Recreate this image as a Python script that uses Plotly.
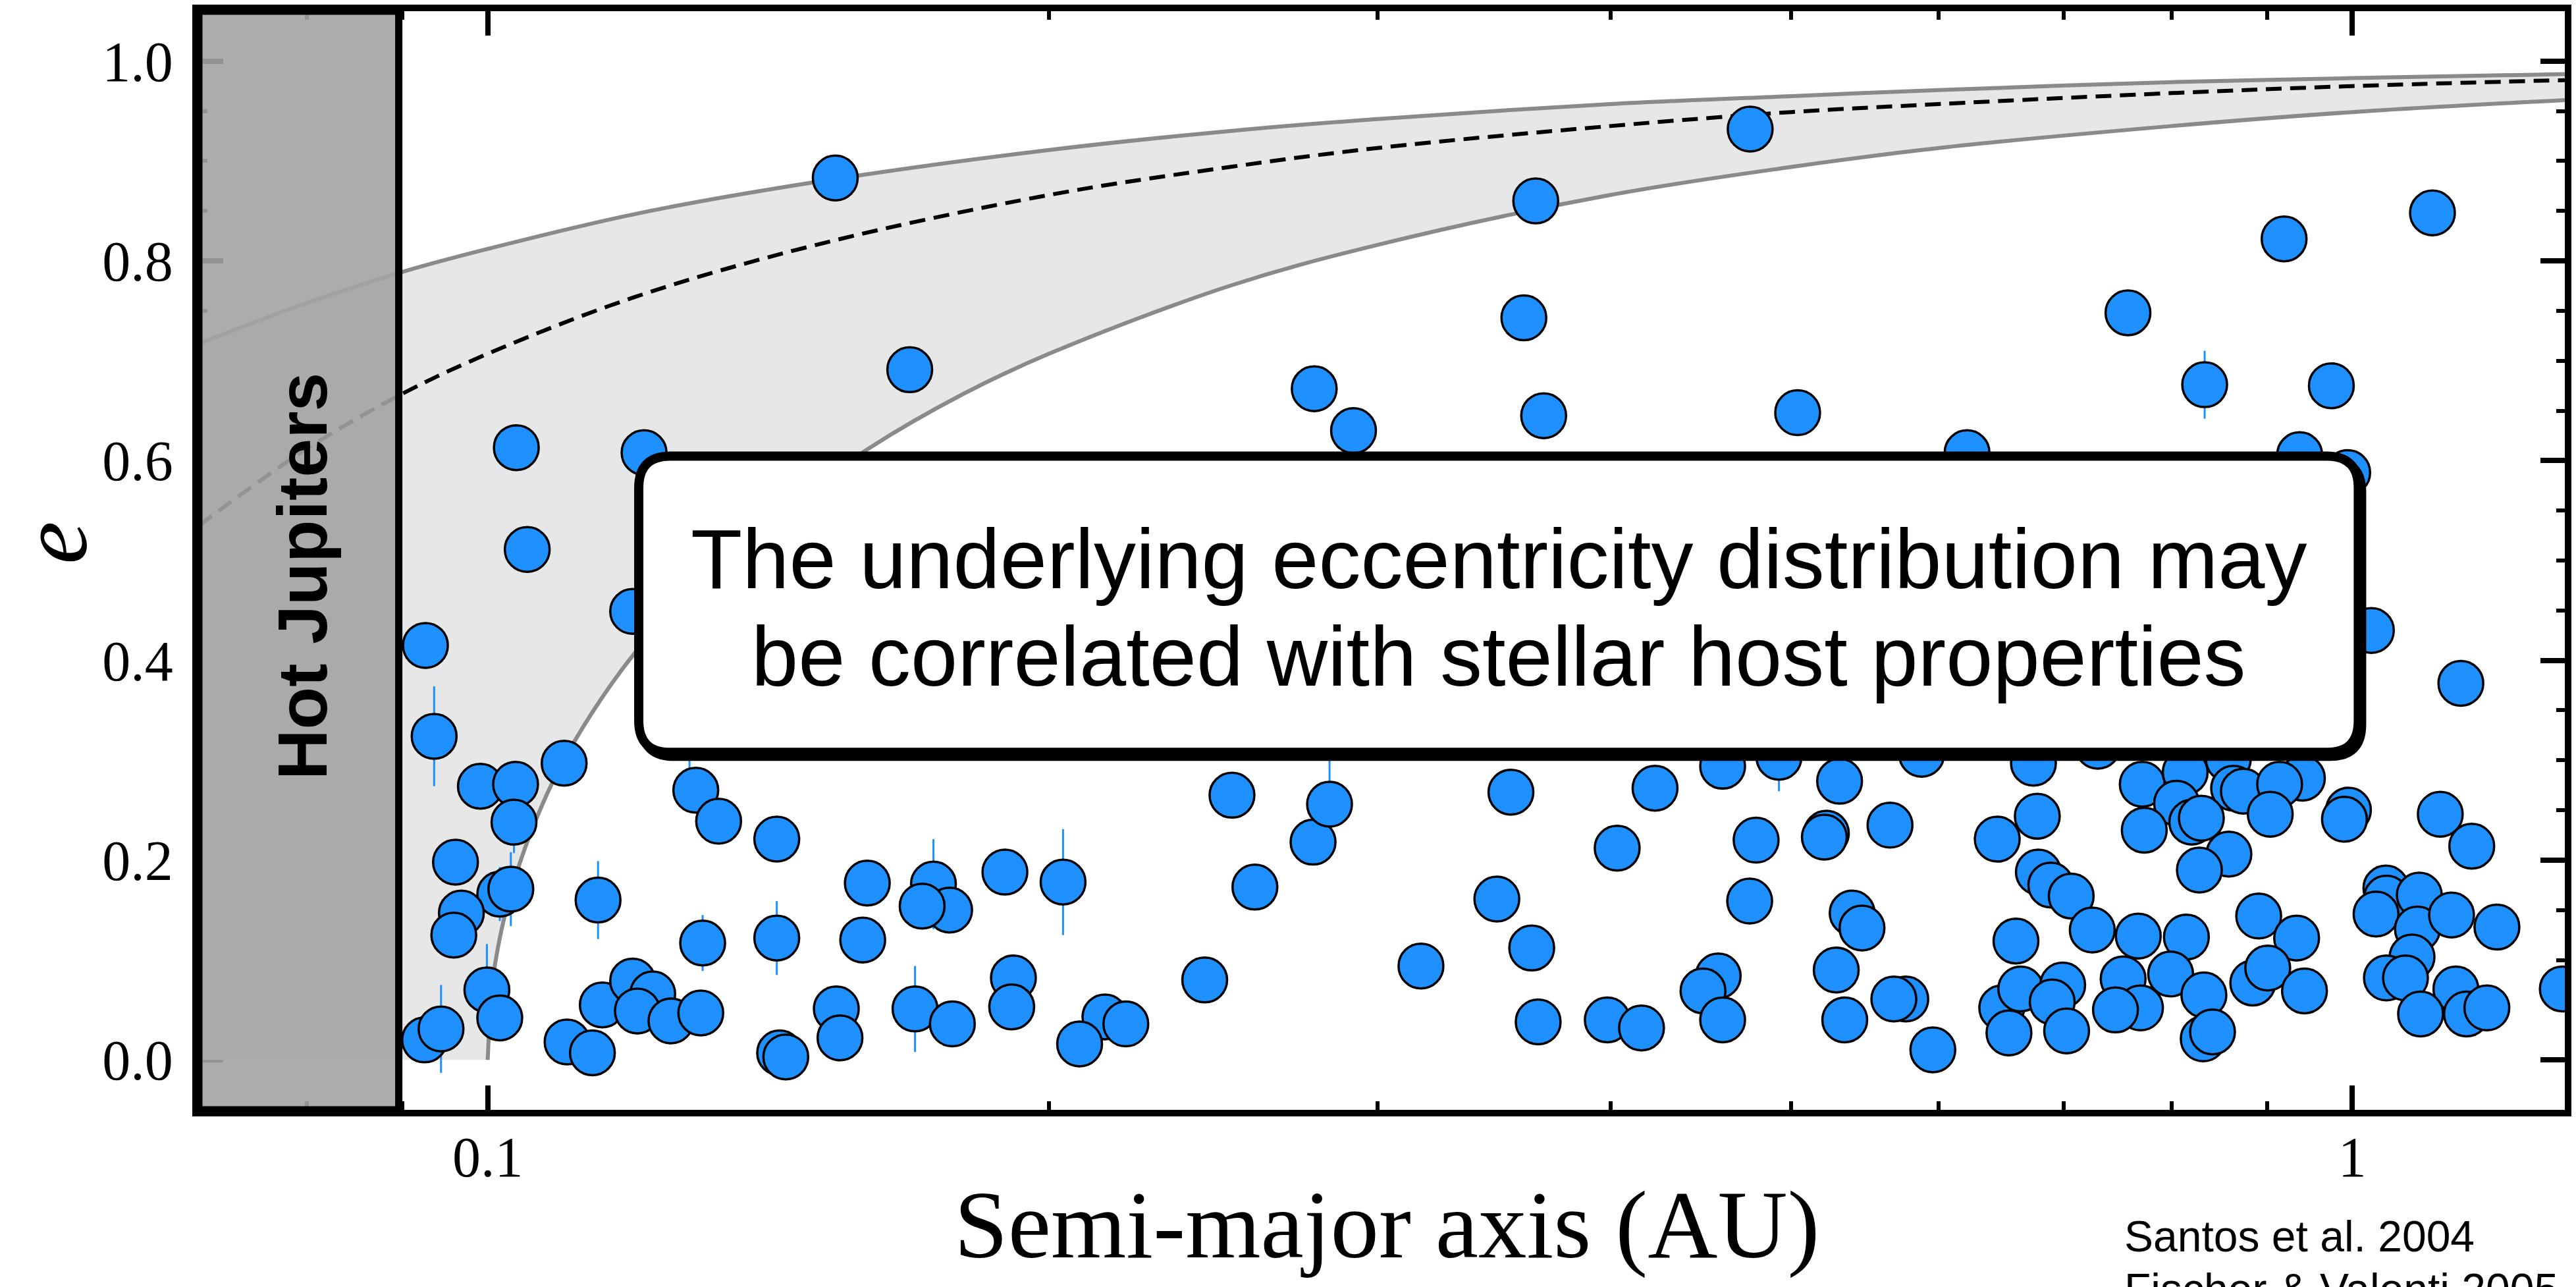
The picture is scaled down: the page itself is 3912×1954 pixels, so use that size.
import plotly.graph_objects as go

# ---------------------------------------------------------------- data
semi_major_au = [
    0.0926, 0.0936, 0.0991, 0.1035, 0.1033, 0.1099, 0.0961, 0.1015, 0.1029, 0.0968,
    0.0959, 0.1146, 0.0999, 0.1015, 0.0925, 0.0944, 0.1103, 0.1138, 0.1152, 0.1196,
    0.1226, 0.1203, 0.1254, 0.1301, 0.1304, 0.1429, 0.1429, 0.1293, 0.1330, 0.1283,
    0.1196, 0.1598, 0.1589, 0.1538, 0.1545, 0.1434, 0.1445, 0.1695,
    0.1734, 0.1769, 0.1710, 0.1894, 0.2035, 0.1775, 0.1914, 0.1910, 0.2143, 0.2077,
    0.2199, 0.2424, 0.2507, 0.2579, 0.2771, 0.2828, 0.3166,
    0.3538, 0.4227, 0.4034, 0.4595, 0.4926, 0.5309, 0.5875, 0.4789, 0.5223, 0.5210,
    0.5650, 0.3477, 0.3630, 0.4751, 0.5392, 0.5458, 0.5287, 0.5761, 0.5677, 0.5343,
    0.5957, 0.4570, 0.4485, 0.4595, 0.3659, 0.3985, 0.4157,
    1.0238, 1.1434, 0.6745, 0.7303, 0.6777, 0.6450, 0.7715, 0.8135, 0.8580, 0.8636,
    0.8741, 0.8049, 0.9402, 0.9141, 0.9036, 0.9952, 0.9903, 0.7734, 0.8201, 0.8299,
    0.8586, 0.8279, 1.1147, 1.1589, 0.6786, 0.6891, 0.7067, 0.7253, 0.7677, 0.8147,
    0.6601, 0.8908, 0.9335, 1.0423, 1.0430, 1.0297, 1.0862, 1.0837, 1.1303, 1.1955,
    1.0765, 1.0430, 1.0678, 1.1364, 1.0879, 1.1514, 1.1807, 1.2960, 0.7535, 0.7990,
    0.7698, 0.7464, 0.8325, 0.8318, 0.8414, 0.8843, 0.9008, 0.9426, 0.6486, 0.6640,
    0.6993, 0.6903, 0.6544, 0.7027,
    0.9192, 1.1040, 0.7580, 0.8333, 0.9744, 0.6214, 0.9370, 0.9943,
    0.1536, 0.1684, 0.1036, 0.1050, 0.1213, 0.2775, 0.2913, 0.4754, 0.3648, 0.3595,
    0.3684, 0.5041,
]
eccentricity = [
    0.415, 0.324, 0.274, 0.276, 0.238, 0.297, 0.198, 0.166, 0.171, 0.147,
    0.125, 0.160, 0.070, 0.042, 0.020, 0.031, 0.018, 0.007, 0.055, 0.079,
    0.066, 0.049, 0.039, 0.047, 0.117, 0.122, 0.221, 0.270, 0.239, 0.326,
    0.449, 0.177, 0.120, 0.051, 0.022, 0.007, 0.003, 0.051,
    0.176, 0.150, 0.154, 0.188, 0.178, 0.036, 0.082, 0.053, 0.043, 0.016,
    0.036, 0.080, 0.265, 0.173, 0.218, 0.256, 0.094,
    0.268, 0.272, 0.212, 0.294, 0.303, 0.279, 0.306, 0.220, 0.227, 0.223,
    0.235, 0.161, 0.112, 0.159, 0.147, 0.132, 0.090, 0.061, 0.061, 0.040,
    0.010, 0.084, 0.069, 0.040, 0.038, 0.040, 0.032,
    0.430, 0.377, 0.297, 0.314, 0.244, 0.221, 0.276, 0.288, 0.301, 0.272,
    0.269, 0.257, 0.282, 0.276, 0.246, 0.250, 0.241, 0.230, 0.238, 0.242,
    0.206, 0.190, 0.246, 0.214, 0.188, 0.175, 0.164, 0.130, 0.124, 0.123,
    0.119, 0.144, 0.122, 0.172, 0.162, 0.146, 0.165, 0.131, 0.145, 0.133,
    0.103, 0.082, 0.082, 0.071, 0.046, 0.046, 0.052, 0.071, 0.081, 0.086,
    0.052, 0.050, 0.065, 0.021, 0.028, 0.077, 0.092, 0.069, 0.052, 0.071,
    0.075, 0.058, 0.027, 0.029,
    0.822, 0.848, 0.748, 0.676, 0.675, 0.608, 0.606, 0.588,
    0.883, 0.691, 0.613, 0.511, 0.608, 0.672, 0.630, 0.932, 0.860, 0.743,
    0.645, 0.648,
]
# 1-sigma uncertainties on e, keyed by planet index (others have none drawn)
err_by_index = {1: 0.050, 4: 0.031, 7: 0.027, 8: 0.037, 11: 0.039, 12: 0.046,
                15: 0.044, 24: 0.028, 25: 0.037, 29: 0.035, 37: 0.043,
                38: 0.045, 42: 0.053, 53: 0.044, 59: 0.034, 149: 0.034}
ecc_err = [err_by_index.get(i, 0.0) for i in range(len(eccentricity))]

# envelope curves
upper_a = [0.07, 0.08, 0.09, 0.10, 0.12, 0.15, 0.20, 0.25, 0.30, 0.40, 0.50, 0.60, 0.80, 1.00, 1.30]
upper_e = [0.717, 0.758, 0.789, 0.812, 0.847, 0.879, 0.911, 0.930, 0.942, 0.957, 0.965, 0.971, 0.979, 0.983, 0.987]
mid_a = [0.07, 0.08, 0.09, 0.10, 0.12, 0.15, 0.20, 0.25, 0.30, 0.40, 0.50, 0.60, 0.80, 1.00, 1.30]
mid_e = [0.535, 0.612, 0.667, 0.707, 0.764, 0.816, 0.866, 0.894, 0.913, 0.935, 0.949, 0.957, 0.968, 0.975, 0.981]
lower_a = [0.100, 0.1005, 0.101, 0.102, 0.104, 0.107, 0.110, 0.115, 0.120, 0.130, 0.140, 0.160,
           0.180, 0.200, 0.250, 0.300, 0.400, 0.500, 0.600, 0.800, 1.000, 1.300]
lower_e = [0.000, 0.071, 0.100, 0.140, 0.196, 0.256, 0.302, 0.361, 0.408, 0.480, 0.535, 0.612,
           0.667, 0.707, 0.775, 0.816, 0.866, 0.894, 0.913, 0.935, 0.949, 0.961]

hot_jupiter_edge = [0.07, 0.0896]
x_range = [0.07, 1.3]
y_range = [-0.05, 1.05]
x_major = [0.1, 1]
x_major_text = ["0.1", "1"]
x_minor = [0.08, 0.09, 0.2, 0.3, 0.4, 0.5, 0.6, 0.7, 0.8, 0.9]
y_major = [0.0, 0.2, 0.4, 0.6, 0.8, 1.0]
y_minor = [0.05, 0.1, 0.15, 0.25, 0.3, 0.35, 0.45, 0.5, 0.55, 0.65, 0.7, 0.75, 0.85, 0.9, 0.95]

# ---------------------------------------------------------------- figure
W, H = 3912, 1954
L, R, T, B = 302, 6.5, 16, 269
PW, PH = W - L - R, H - T - B

def px_x(x):
    return (x - L) / PW

def px_y(y):
    return (H - B - y) / PH

fig = go.Figure()

band_x = upper_a + lower_a[::-1] + [0.07]
band_y = upper_e + lower_e[::-1] + [0.0]
fig.add_trace(go.Scatter(x=band_x, y=band_y, mode="lines", fill="toself",
                         fillcolor="#e7e7e7", line=dict(width=0), hoverinfo="skip"))
fig.add_trace(go.Scatter(x=upper_a, y=upper_e, mode="lines",
                         line=dict(color="#8a8a8a", width=6, shape="spline")))
fig.add_trace(go.Scatter(x=lower_a, y=lower_e, mode="lines",
                         line=dict(color="#8a8a8a", width=6, shape="spline")))
fig.add_trace(go.Scatter(x=mid_a, y=mid_e, mode="lines",
                         line=dict(color="black", width=6, dash="24px,13px", shape="spline")))

# hot-Jupiter zone
x0, x1 = hot_jupiter_edge
fig.add_trace(go.Scatter(x=[x0, x1, x1, x0, x0],
                         y=[y_range[0], y_range[0], y_range[1], y_range[1], y_range[0]],
                         mode="lines", fill="toself", fillcolor="rgba(163,163,163,0.9)",
                         line=dict(color="black", width=11)))

fig.add_trace(go.Scatter(
    x=semi_major_au, y=eccentricity, mode="markers",
    marker=dict(size=68, color="#1e90ff", line=dict(color="black", width=3.5)),
    error_y=dict(type="data", array=ecc_err, visible=True, color="#1e90ff",
                 thickness=3, width=0),
))

# rounded call-out box
bx0, bx1 = px_x(972), px_x(3591)
by1, by0 = px_y(692), px_y(1142)
rx, ry = 48 / PW, 48 / PH

def rounded(x0, y0, x1, y1):
    return (f"M {x0+rx},{y1} L {x1-rx},{y1} Q {x1},{y1} {x1},{y1-ry} "
            f"L {x1},{y0+ry} Q {x1},{y0} {x1-rx},{y0} L {x0+rx},{y0} "
            f"Q {x0},{y0} {x0},{y0+ry} L {x0},{y1-ry} Q {x0},{y1} {x0+rx},{y1} Z")

sdx, sdy = 5 / PW, 6 / PH
fig.add_shape(type="path", xref="paper", yref="paper", layer="above",
              path=rounded(bx0 + sdx, by0 - sdy, bx1 + sdx, by1 - sdy),
              fillcolor="black", line=dict(color="black", width=14))
fig.add_shape(type="path", xref="paper", yref="paper", layer="above",
              path=rounded(bx0, by0, bx1, by1),
              fillcolor="white", line=dict(color="black", width=14))

sans = "Liberation Sans, Arial, Helvetica, sans-serif"
serif = "Liberation Serif, Times New Roman, serif"

for line_text, yc in [("The underlying eccentricity distribution may", 848),
                      ("be correlated with stellar host properties", 996)]:
    fig.add_annotation(text=line_text, xref="paper", yref="paper",
                       x=px_x(2282), y=px_y(yc), xanchor="center", yanchor="middle",
                       showarrow=False, font=dict(family=sans, size=128, color="black"))

fig.add_annotation(text="<b>Hot Jupiters</b>", xref="paper", yref="paper",
                   x=px_x(460), y=px_y(875), xanchor="center", yanchor="middle",
                   textangle=-90, showarrow=False,
                   font=dict(family=sans, size=106, color="black"))

# y-axis label: a compact box keeps the rotated label inside the canvas
fig.add_annotation(text="<i>e</i>", xref="paper", yref="paper",
                   x=px_x(80), y=px_y(824), xanchor="center", yanchor="middle",
                   textangle=-90, showarrow=False, width=100, height=110,
                   font=dict(family=serif, size=147, color="black"))

fig.add_annotation(text="Semi-major axis (AU)", xref="paper", yref="paper",
                   x=px_x(2112), y=px_y(1860), xanchor="center", yanchor="middle",
                   showarrow=False, font=dict(family=serif, size=147, color="black"))

for ref_text, yc in [("Santos et al. 2004", 1877), ("Fischer &amp; Valenti 2005", 1957)]:
    fig.add_annotation(text=ref_text, xref="paper", yref="paper",
                       x=px_x(3233), y=px_y(yc), xanchor="left", yanchor="middle",
                       showarrow=False, font=dict(family=sans, size=66, color="black"))

axis_common = dict(
    showline=True, linecolor="black", linewidth=10, mirror="ticks",
    ticks="inside", ticklen=37, tickwidth=8, tickcolor="black",
    showgrid=False, zeroline=False, layer="below traces",
    tickfont=dict(family=serif, size=86, color="black"),
)
fig.update_xaxes(type="log", range=[-1.154902, 0.113943],
                 tickvals=x_major, ticktext=x_major_text,
                 minor=dict(tickvals=x_minor, ticks="inside", ticklen=13,
                            tickwidth=6, tickcolor="black", showgrid=False),
                 ticklabelstandoff=-12, **axis_common)
fig.update_yaxes(range=y_range, tickvals=y_major,
                 ticktext=[f"{v:.1f}" for v in y_major],
                 minor=dict(tickvals=y_minor, ticks="inside", ticklen=13,
                            tickwidth=6, tickcolor="black", showgrid=False),
                 ticklabelstandoff=12, **axis_common)

fig.update_layout(
    width=W, height=H, showlegend=False,
    margin=dict(l=L, r=R, t=T, b=B, pad=0),
    paper_bgcolor="white", plot_bgcolor="white",
)

fig.write_html("out.html")
